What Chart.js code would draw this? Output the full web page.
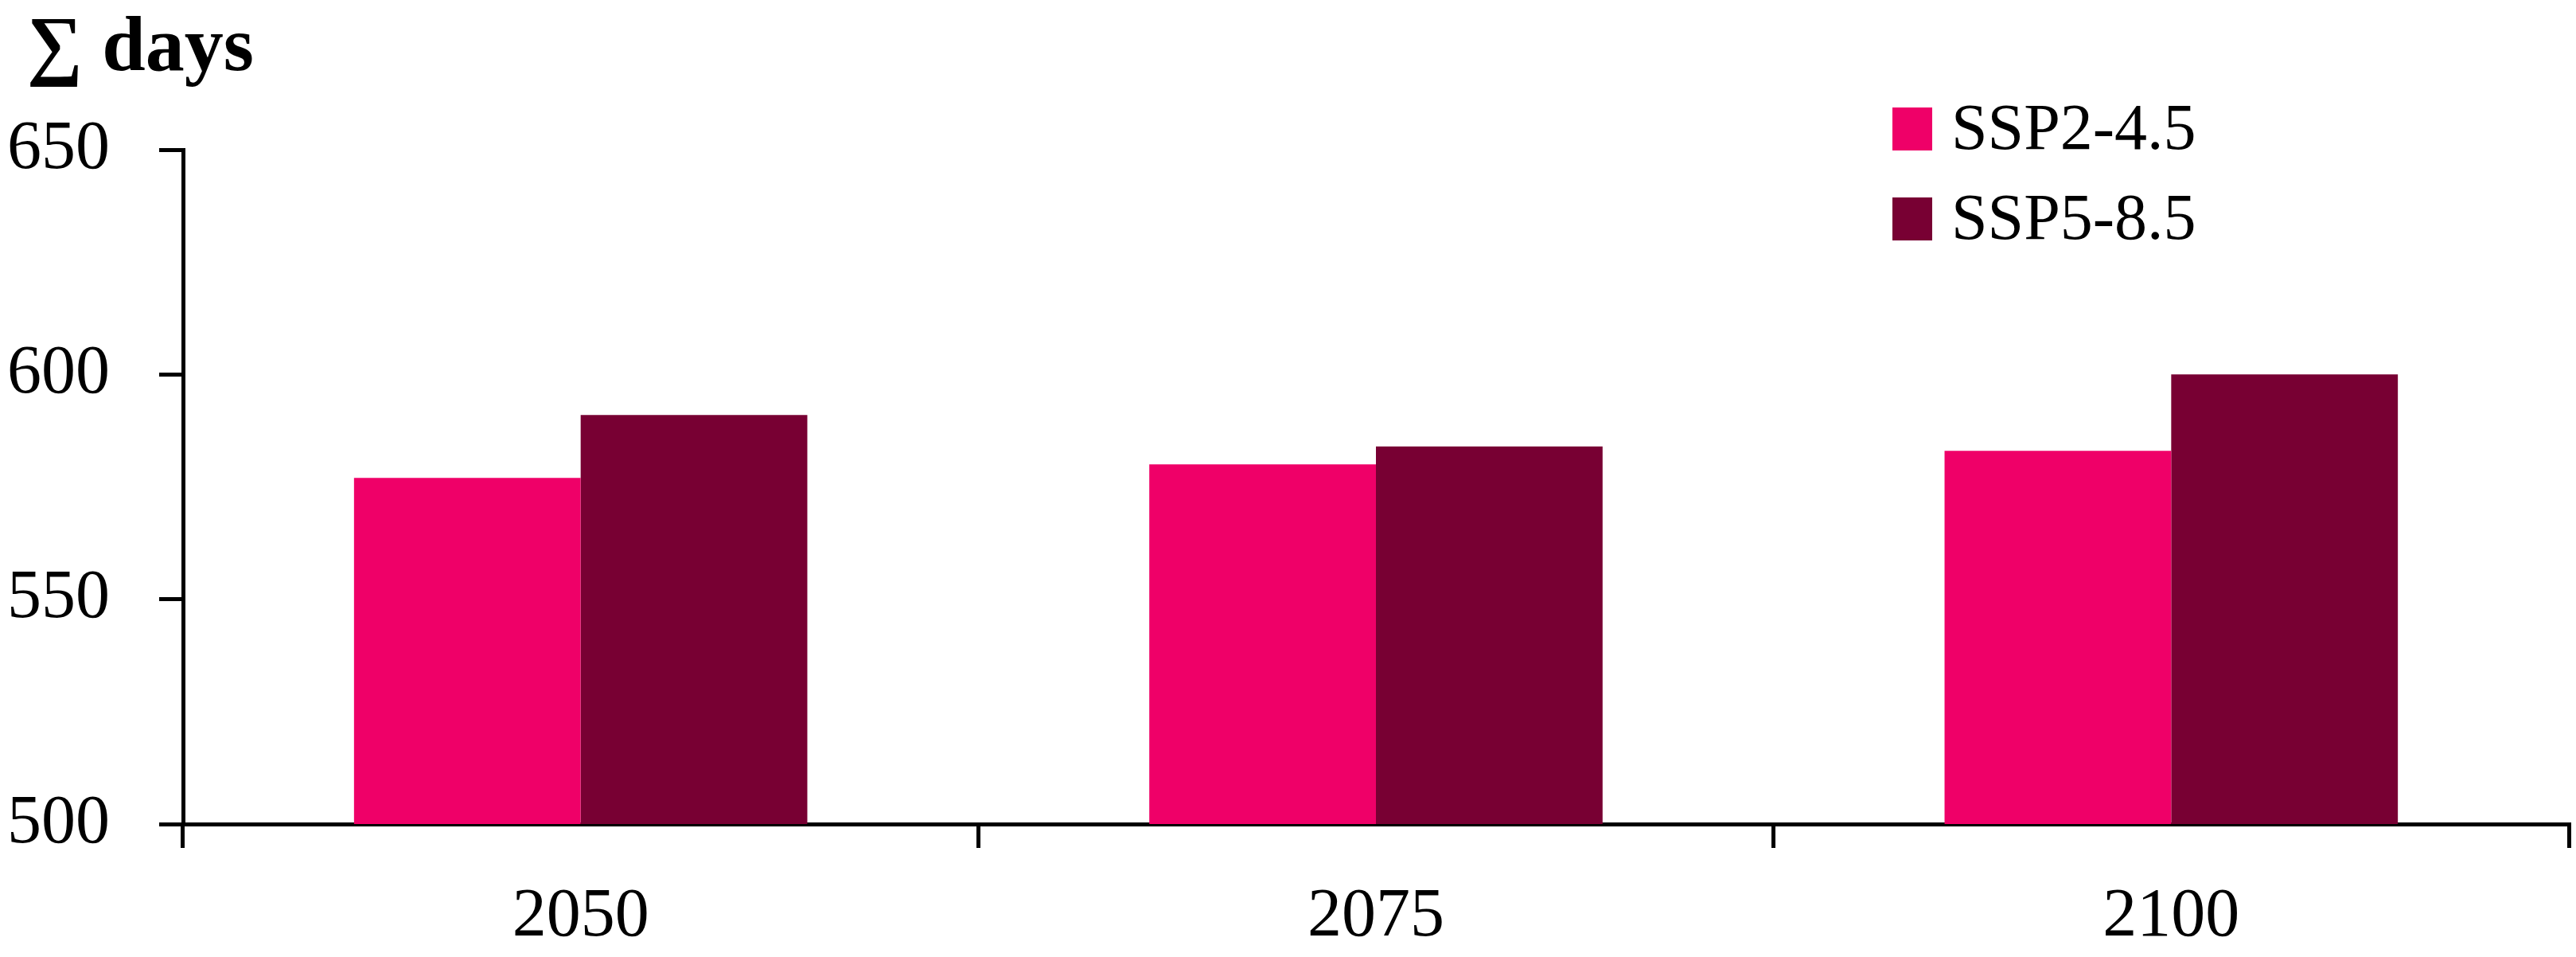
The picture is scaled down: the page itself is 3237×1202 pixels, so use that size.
<!DOCTYPE html>
<html>
<head>
<meta charset="utf-8">
<script src="https://cdn.jsdelivr.net/npm/chart.js@4/dist/chart.umd.min.js"></script>
<style>
  html, body { margin: 0; padding: 0; background: #fff; }
  #wrap { width: 3237px; height: 1202px; }
</style>
</head>
<body>
<div id="wrap"><canvas id="daysChart" width="3237" height="1202"></canvas></div>
<script>
// values
const years = ['2050', '2075', '2100'];
const ssp245 = [577, 580, 583];
const ssp585 = [591, 584, 600];
const seriesNames = ['SSP2-4.5', 'SSP5-8.5'];
const yTicks = [500, 550, 600, 650];

const FONT = "'Liberation Serif', 'Times New Roman', serif";
const el = (id) => document.getElementById(id);

// title + legend drawn on top of the chart
const overlay = {
  id: 'overlay',
  afterDraw(chart) {
    const ctx = chart.ctx;
    ctx.save();
    ctx.fillStyle = '#000';
    ctx.textBaseline = 'alphabetic';
    ctx.textAlign = 'left';
    ctx.font = `bold 98px ${FONT}`;
    ctx.fillText('\u2211 days', 34, 88);

    const rows = [162, 275];
    ctx.font = `82px ${FONT}`;
    ctx.textBaseline = 'middle';
    chart.data.datasets.forEach((ds, i) => {
      ctx.fillStyle = ds.backgroundColor;
      ctx.fillRect(2378, rows[i] - 27, 50, 54);
      ctx.fillStyle = '#000';
      ctx.fillText(ds.label, 2452, rows[i] + 3);
    });
    ctx.restore();
  }
};

new Chart(el('daysChart').getContext('2d'), {
  type: 'bar',
  data: {
    labels: years,
    datasets: [
      { label: seriesNames[0], data: ssp245, backgroundColor: '#EF0068' },
      { label: seriesNames[1], data: ssp585, backgroundColor: '#780033' }
    ]
  },
  options: {
    responsive: false,
    animation: false,
    layout: { padding: { top: 188, left: 10, right: 9, bottom: 0 } },
    datasets: {
      bar: { categoryPercentage: 0.57, barPercentage: 1.0, borderWidth: 0 }
    },
    plugins: {
      legend: { display: false },
      title: { display: false },
      tooltip: { enabled: false }
    },
    scales: {
      x: {
        afterFit: (axis) => { axis.height = 167; },
        grid: {
          offset: true,
          drawOnChartArea: false,
          drawTicks: true,
          tickLength: 30,
          color: '#000',
          lineWidth: 5
        },
        border: { display: true, color: '#000', width: 5 },
        ticks: {
          color: '#000',
          font: { family: FONT, size: 86 },
          padding: 36,
          maxRotation: 0
        }
      },
      y: {
        min: yTicks[0],
        max: yTicks[yTicks.length - 1],
        afterBuildTicks: (axis) => { axis.ticks = yTicks.map(v => ({ value: v })); },
        afterFit: (axis) => { axis.width = 220; },
        grid: {
          drawOnChartArea: false,
          drawTicks: true,
          tickLength: 30,
          color: '#000',
          lineWidth: 5
        },
        border: { display: true, color: '#000', width: 5 },
        ticks: {
          color: '#000',
          font: { family: FONT, size: 86 },
          padding: 62
        }
      }
    }
  },
  plugins: [overlay]
});
</script>
</body>
</html>
